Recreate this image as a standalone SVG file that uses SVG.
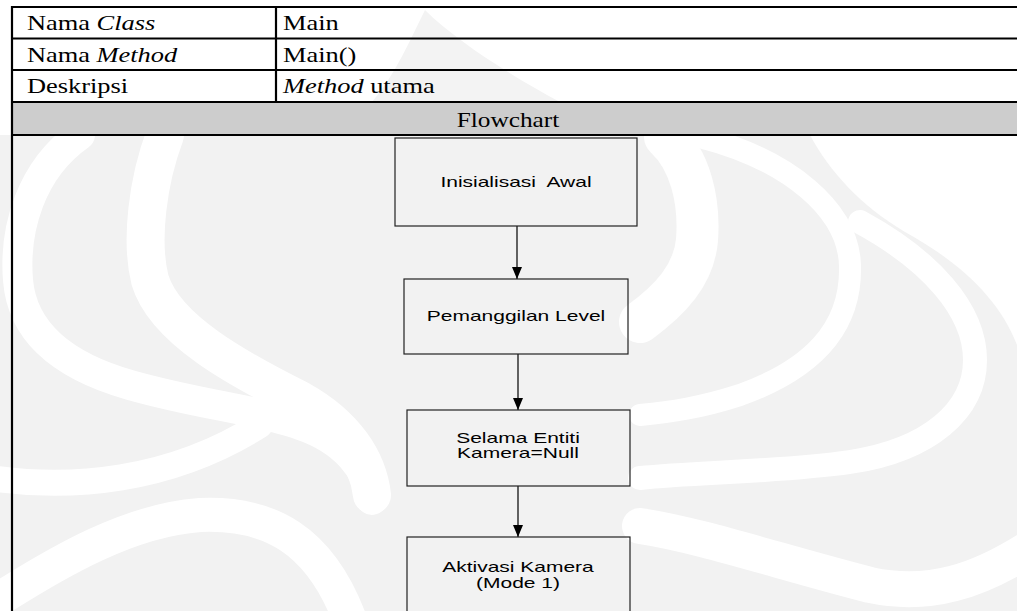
<svg xmlns="http://www.w3.org/2000/svg" width="1017" height="611" viewBox="0 0 1017 611">
  <defs>
    <style>
      .cell { font-family: "Liberation Serif", "Times New Roman", serif; font-size: 22px; fill: #000; }
      .it { font-style: italic; }
      .grid { stroke: #000; stroke-width: 2.2; fill: none; }
      .box { fill: none; stroke: #222; stroke-width: 1.2; }
      .lbl { font-family: "Liberation Sans", Arial, sans-serif; font-size: 14px; fill: #000; text-anchor: middle; white-space: pre; }
      .edge { stroke: #000; stroke-width: 1.2; fill: none; }
      .wm { fill: none; stroke: #ffffff; stroke-linecap: round; }
    </style>
    <marker id="arrow" viewBox="0 0 12 10" refX="12" refY="5" markerWidth="12" markerHeight="10" markerUnits="userSpaceOnUse" orient="auto">
      <path d="M0,0 L12,5 L0,10 Z" fill="#000"/>
    </marker>
  </defs>

  <!-- page -->
  <rect x="0" y="0" width="1017" height="611" fill="#ffffff"/>

  <!-- faint background emblem -->
  <g id="watermark">
    <path d="M425 10 C410 40 395 75 372 102 L560 102 C510 75 455 40 425 10 Z" fill="#f3f3f3"/>
    <rect x="0" y="135" width="1017" height="476" fill="#f2f2f2"/>
    <path d="M810 135 L1017 135 L1017 345 C1000 300 960 262 905 232 C860 205 830 172 810 135 Z" fill="#ffffff"/>
    <path class="wm" stroke-width="30" d="M80 135 C30 170 14 230 18 280 C22 330 60 365 130 385 C200 405 260 410 300 425 C345 440 368 470 372 500"/>
    <path class="wm" stroke-width="38" d="M165 135 C148 180 140 240 150 280 C165 330 240 370 300 400 C345 425 368 460 372 495"/>
    <path class="wm" stroke-width="26" d="M-10 478 C70 490 170 482 260 425"/>
    <path class="wm" stroke-width="34" d="M-10 605 C60 560 130 520 200 515 C270 512 320 540 350 620"/>
    <path class="wm" stroke-width="42" d="M665 137 C690 160 700 200 697 240 C694 275 670 300 640 322"/>
    <path class="wm" stroke-width="22" d="M700 137 C790 160 848 210 850 265 C852 330 810 370 740 395 C700 408 670 412 640 415"/>
    <path class="wm" stroke-width="24" d="M860 222 C930 260 975 310 975 360 C975 410 930 450 850 462 C780 472 700 472 640 478"/>
    <path class="wm" stroke-width="36" d="M640 526 C700 535 780 562 870 585 C930 598 980 580 1030 548"/>
  </g>

  <!-- table -->
  <g id="table">
    <rect x="12" y="102" width="1005" height="33" fill="#cdcdcd"/>
    <path class="grid" d="M11 7 H1017 M11 38.5 H1017 M11 70 H1017 M11 102 H1017 M11 135 H1017 M12 6 V611 M276 7 V102"/>
    <text class="cell" transform="translate(27,30) scale(1.2,1)">Nama <tspan class="it">Class</tspan></text>
    <text class="cell" transform="translate(283,30) scale(1.2,1)">Main</text>
    <text class="cell" transform="translate(27,62) scale(1.2,1)">Nama <tspan class="it">Method</tspan></text>
    <text class="cell" transform="translate(283,62) scale(1.2,1)">Main()</text>
    <text class="cell" transform="translate(27,93) scale(1.2,1)">Deskripsi</text>
    <text class="cell" transform="translate(283,93) scale(1.2,1)"><tspan class="it">Method</tspan> utama</text>
    <text class="cell" transform="translate(508,127) scale(1.15,1)" text-anchor="middle">Flowchart</text>
  </g>

  <!-- connectors -->
  <g id="connectors">
    <path class="edge" d="M517 226 V279" marker-end="url(#arrow)"/>
    <path class="edge" d="M518 354 V410" marker-end="url(#arrow)"/>
    <path class="edge" d="M518 486 V537" marker-end="url(#arrow)"/>
  </g>

  <!-- flowchart steps -->
  <g id="init">
    <rect class="box" x="395" y="138" width="242" height="88"/>
    <text class="lbl" transform="translate(516,187) scale(1.5,1)">Inisialisasi  Awal</text>
  </g>
  <g id="load-level">
    <rect class="box" x="404" y="279" width="224" height="75"/>
    <text class="lbl" transform="translate(516,321) scale(1.5,1)">Pemanggilan Level</text>
  </g>
  <g id="wait-camera">
    <rect class="box" x="407" y="410" width="223" height="76"/>
    <text class="lbl" transform="translate(518,443) scale(1.5,1)">Selama Entiti</text>
    <text class="lbl" transform="translate(518,458) scale(1.5,1)">Kamera=Null</text>
  </g>
  <g id="activate-camera">
    <rect class="box" x="407" y="537" width="223" height="90"/>
    <text class="lbl" transform="translate(518,572) scale(1.5,1)">Aktivasi Kamera</text>
    <text class="lbl" transform="translate(518,588) scale(1.5,1)">(Mode 1)</text>
  </g>
</svg>
